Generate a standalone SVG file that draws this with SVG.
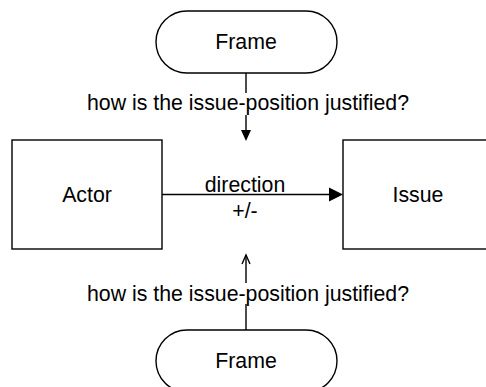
<svg xmlns="http://www.w3.org/2000/svg" width="486" height="387" viewBox="0 0 486 387">
<style>
.shape{fill:#fff;stroke:#000;stroke-width:1.4}
.t{font-family:"Liberation Sans",Arial,sans-serif;font-size:21.3px;fill:#000;text-anchor:middle}
.edge{fill:none;stroke:#000;stroke-width:1.4}
</style>
<rect width="486" height="387" fill="#fff"/>
<g id="connectors">
  <g id="e-top">
    <line class="edge" x1="246" y1="73" x2="246" y2="131"/>
    <polygon points="241,130 251,130 246,141" fill="#000"/>
    <rect x="86" y="93" width="324" height="22" fill="#fff"/>
    <text class="t" x="248" y="110">how is the issue-position justified?</text>
  </g>
  <g id="e-mid">
    <line class="edge" x1="162" y1="194.5" x2="330" y2="194.5"/>
    <polygon points="329,187.5 329,201.5 343,194.5" fill="#000"/>
    <text class="t" x="245" y="192">direction</text>
    <text class="t" x="245" y="218">+/-</text>
  </g>
  <g id="e-bot">
    <line class="edge" x1="246" y1="330" x2="246" y2="255"/>
    <polyline class="edge" points="242,264 246,255 250,264"/>
    <rect x="86" y="283" width="324" height="21" fill="#fff"/>
    <text class="t" x="248" y="301">how is the issue-position justified?</text>
  </g>
</g>
<g id="frame-top">
  <rect class="shape" x="156" y="11" width="181" height="62" rx="31" ry="31"/>
  <text class="t" x="246" y="49">Frame</text>
</g>
<g id="actor">
  <rect class="shape" x="12" y="140" width="150" height="109"/>
  <text class="t" x="87" y="202">Actor</text>
</g>
<g id="issue">
  <rect class="shape" x="343" y="140" width="150" height="109"/>
  <text class="t" x="418" y="202">Issue</text>
</g>
<g id="frame-bottom">
  <rect class="shape" x="156" y="330" width="181" height="62" rx="31" ry="31"/>
  <text class="t" x="246" y="368">Frame</text>
</g>
</svg>
